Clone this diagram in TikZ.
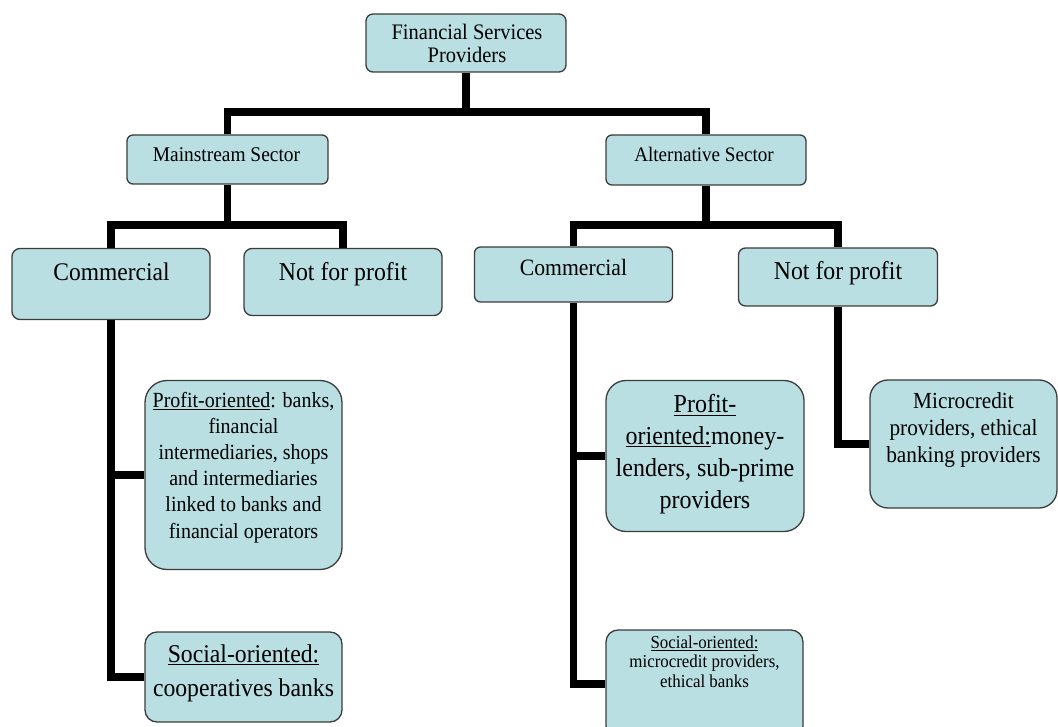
\documentclass[tikz,border=0pt]{standalone}
\usepackage{fontspec}
\setmainfont{Liberation Serif}
\usepackage{graphicx}
\definecolor{boxfill}{RGB}{185,223,227}
\definecolor{boxline}{RGB}{60,60,60}
\newcommand{\btext}[1]{\scalebox{1}[1.08]{\begin{tabular}[t]{@{}c@{}}#1\end{tabular}}}
\begin{document}
\begin{tikzpicture}[x=1pt,y=-1pt,
  box/.style={draw=boxline, fill=boxfill, line width=1.3pt, inner sep=0pt},
  conn/.style={line width=7.5pt, line join=miter, draw=black},
  txt/.style={anchor=base, inner sep=0pt, text=black},
  fs/.style 2 args={font=\fontsize{#1}{#2}\selectfont}]
\useasboundingbox (0,0) rectangle (1058,727);
\clip (0,0) rectangle (1058,727);

% boxes
\node[box, rounded corners=7pt, minimum width=200pt, minimum height=58pt] (root) at (466,43) {};
\node[box, rounded corners=6pt, minimum width=201pt, minimum height=49pt] (main) at (227.5,159.5) {};
\node[box, rounded corners=6pt, minimum width=200pt, minimum height=50pt] (alt) at (706,160) {};
\node[box, rounded corners=8pt, minimum width=198pt, minimum height=71pt] (c1) at (111,284) {};
\node[box, rounded corners=8pt, minimum width=198pt, minimum height=67pt] (n1) at (343,282) {};
\node[box, rounded corners=6pt, minimum width=198pt, minimum height=55pt] (c2) at (573.5,274.5) {};
\node[box, rounded corners=7pt, minimum width=199pt, minimum height=58pt] (n2) at (838,277) {};
\node[box, rounded corners=22pt, minimum width=197pt, minimum height=189pt] (p1) at (243.5,475) {};
\node[box, rounded corners=12pt, minimum width=197pt, minimum height=90pt] (s1) at (243.5,677) {};
\node[box, rounded corners=20pt, minimum width=198pt, minimum height=151pt] (p2) at (705,456) {};
\node[box, rounded corners=12pt, minimum width=197pt, minimum height=108pt] (s2) at (704.5,684) {};
\node[box, rounded corners=18pt, minimum width=187pt, minimum height=128pt] (mc) at (963.5,444) {};

% connectors
\draw[conn] (root.south) -- (root.south |- 0,112);
\draw[conn] (main.north) -- (main.north |- 0,112) -| (alt.north);
\draw[conn] (main.south) -- (main.south |- 0,225);
\draw[conn] (c1.north) -- (c1.north |- 0,225) -| (n1.north);
\draw[conn] (alt.south) -- (alt.south |- 0,225);
\draw[conn] (c2.north) -- (c2.north |- 0,225) -| (n2.north);
\draw[conn] (c1.south) |- (s1.west);
\draw[conn] (c1.south |- p1.west) -- (p1.west);
\draw[conn] (c2.south) |- (s2.west);
\draw[conn] (c2.south |- p2.west) -- (p2.west);
\draw[conn] (n2.south) |- (mc.west);

% texts
\node[txt, fs={20.5}{20.8}] (rootT) at (467,40) {\btext{Financial Services\\Providers}};
\node[txt, fs={19.4}{20}] (mainT) at (226.5,162) {\btext{Mainstream Sector}};
\node[txt, fs={19.1}{20}] (altT) at (704,162) {\btext{Alternative Sector}};
\node[txt, fs={23.5}{25}] (c1T) at (111.5,281) {\btext{Commercial}};
\node[txt, fs={23.8}{25}] (n1T) at (343,280.5) {\btext{Not for profit}};
\node[txt, fs={21.7}{23}] (c2T) at (573.5,276) {\btext{Commercial}};
\node[txt, fs={23.8}{25}] (n2T) at (838,280) {\btext{Not for profit}};
\node[txt, fs={20}{24.3}] (p1T) at (243.5,407) {\btext{\underline{Profit-oriented}: banks,\\financial\\intermediaries, shops\\and intermediaries\\linked to banks and\\financial operators}};
\node[txt, fs={24}{29.4}] (p2T) at (705,413) {\btext{\underline{Profit-}\\\underline{oriented:}money-\\lenders, sub-prime\\providers}};
\node[txt, fs={23.7}{31.5}] (s1T) at (243.5,662) {\btext{\underline{Social-oriented:}\\cooperatives banks}};
\node[txt, fs={16.9}{18.2}] (s2T) at (704.5,648) {\btext{\underline{Social-oriented:}\\microcredit providers,\\ethical banks}};
\node[txt, fs={21.3}{25.3}] (mcT) at (963.5,408) {\btext{Microcredit\\providers, ethical\\banking providers}};
\end{tikzpicture}
\end{document}
